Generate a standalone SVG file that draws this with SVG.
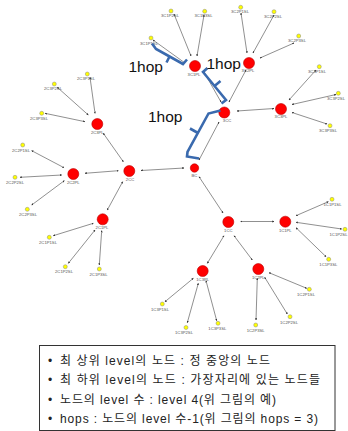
<svg xmlns="http://www.w3.org/2000/svg" width="348" height="431" viewBox="0 0 348 431">
<defs>
<marker id="ah" viewBox="0 0 6 6" refX="5" refY="3" markerWidth="3.5" markerHeight="3.5" orient="auto-start-reverse">
<path d="M0,0 L6,3 L0,6 z" fill="#333"/>
</marker>
<style>
.e{stroke:#444;stroke-width:0.6;fill:none;marker-start:url(#ah);marker-end:url(#ah)}
.r{fill:#f00;stroke:#b00;stroke-width:0.6}
.y{fill:#ff0;stroke:#888;stroke-width:0.5}
.l{font-family:"Liberation Sans",Arial,sans-serif;font-size:4.2px;fill:#555;text-anchor:middle}
.br{fill:none;stroke:#3a6aae;stroke-width:2.6;stroke-linejoin:miter;stroke-linecap:butt}
.hop{font-family:"Liberation Sans",Arial,sans-serif;font-size:15.5px;fill:#111}
.t{font-family:"Liberation Sans","Noto Sans CJK KR",sans-serif;font-size:12px;fill:#222}
</style>
</defs>
<rect width="348" height="431" fill="#fff"/>
<g id="connectors">
<line class="e" x1="199" y1="160" x2="219" y2="122"/>
<line class="e" x1="199" y1="176.7" x2="223" y2="213"/>
<line class="e" x1="141" y1="170.5" x2="184" y2="168"/>
<line class="e" x1="221" y1="102" x2="204" y2="72"/>
<line class="e" x1="229" y1="102" x2="246" y2="70"/>
<line class="e" x1="237" y1="111" x2="274" y2="108.5"/>
<line class="e" x1="153" y1="40" x2="185" y2="63"/>
<line class="e" x1="174" y1="14" x2="191" y2="56"/>
<line class="e" x1="204" y1="15" x2="197" y2="56"/>
<line class="e" x1="241" y1="13" x2="247" y2="53"/>
<line class="e" x1="274" y1="15" x2="253" y2="53"/>
<line class="e" x1="294" y1="43" x2="260" y2="58"/>
<line class="e" x1="316" y1="70" x2="289" y2="100"/>
<line class="e" x1="336" y1="94.5" x2="292" y2="104.5"/>
<line class="e" x1="327" y1="124" x2="292" y2="112.5"/>
<line class="e" x1="103.3" y1="133.3" x2="123.3" y2="161.7"/>
<line class="e" x1="85" y1="173.3" x2="118.3" y2="170.7"/>
<line class="e" x1="107.3" y1="210" x2="122.7" y2="181.7"/>
<line class="e" x1="90" y1="77.3" x2="95" y2="113.3"/>
<line class="e" x1="57.3" y1="87.3" x2="88.3" y2="115"/>
<line class="e" x1="45" y1="113.3" x2="85" y2="121.7"/>
<line class="e" x1="31.7" y1="150.7" x2="64" y2="167.7"/>
<line class="e" x1="20" y1="177.3" x2="61.7" y2="175"/>
<line class="e" x1="31.7" y1="205" x2="64.3" y2="180.7"/>
<line class="e" x1="53.3" y1="235.7" x2="93.3" y2="223.3"/>
<line class="e" x1="68.3" y1="263.3" x2="95" y2="230"/>
<line class="e" x1="99.3" y1="265" x2="101.7" y2="230.7"/>
<line class="e" x1="240.7" y1="221.5" x2="274" y2="221.5"/>
<line class="e" x1="224" y1="235.7" x2="207.3" y2="263.3"/>
<line class="e" x1="234" y1="235.7" x2="252.3" y2="260"/>
<line class="e" x1="296" y1="215.7" x2="328.3" y2="201.7"/>
<line class="e" x1="296" y1="222.3" x2="341.7" y2="229"/>
<line class="e" x1="296" y1="227.7" x2="326" y2="256.7"/>
<line class="e" x1="165" y1="301.7" x2="193.3" y2="278.3"/>
<line class="e" x1="187.3" y1="322.7" x2="198.3" y2="283.3"/>
<line class="e" x1="216.7" y1="320.7" x2="206" y2="280.7"/>
<line class="e" x1="269" y1="272.7" x2="306.7" y2="288.3"/>
<line class="e" x1="264.7" y1="277.3" x2="287.3" y2="314"/>
<line class="e" x1="257.3" y1="278.3" x2="256" y2="320"/>
</g>
<g id="BC"><circle class="r" cx="194.5" cy="168" r="4.2"/><text class="l" x="194.5" y="177">BC</text></g>
<g id="n3CC"><circle class="r" cx="224.3" cy="112.5" r="5.5"/><text class="l" x="227" y="122">3CC</text></g>
<g id="n2CC"><circle class="r" cx="129.3" cy="171" r="5.5"/><text class="l" x="130" y="180.5">2CC</text></g>
<g id="n1CC"><circle class="r" cx="228.3" cy="222" r="5.5"/><text class="l" x="228.3" y="232">1CC</text></g>
<g id="n3C1PL"><circle class="r" cx="195" cy="66" r="5.5"/><text class="l" x="194" y="75.5">3C1PL</text></g>
<g id="n3C2PL"><circle class="r" cx="249" cy="63" r="5.5"/><text class="l" x="248" y="72">3C2PL</text></g>
<g id="n3C3PL"><circle class="r" cx="281" cy="109" r="5.5"/><text class="l" x="281" y="118">3C3PL</text></g>
<g id="n2C3PL"><circle class="r" cx="97.3" cy="124" r="5.5"/><text class="l" x="97.3" y="133.5">2C3PL</text></g>
<g id="n2C2PL"><circle class="r" cx="73.3" cy="174" r="5.5"/><text class="l" x="73.3" y="183.5">2C2PL</text></g>
<g id="n2C1PL"><circle class="r" cx="102.7" cy="219.3" r="5.5"/><text class="l" x="102" y="229">2C1PL</text></g>
<g id="n1C1PL"><circle class="r" cx="285.3" cy="221.7" r="5.5"/><text class="l" x="285.3" y="232">1C1PL</text></g>
<g id="n1C3PL"><circle class="r" cx="202.7" cy="271" r="5.5"/><text class="l" x="202.7" y="280.5">1C3PL</text></g>
<g id="n1C2PL"><circle class="r" cx="258.3" cy="269" r="5.5"/><text class="l" x="258.3" y="279">1C2PL</text></g>
<g id="n3C1P1SL"><circle class="y" cx="151" cy="38" r="2"/><text class="l" x="149" y="45">3C1P1SL</text></g>
<g id="n3C1P2SL"><circle class="y" cx="171" cy="11" r="2"/><text class="l" x="170" y="17">3C1P2SL</text></g>
<g id="n3C1P3SL"><circle class="y" cx="204.7" cy="11.3" r="2"/><text class="l" x="203.5" y="17.3">3C1P3SL</text></g>
<g id="n3C2P1SL"><circle class="y" cx="240.7" cy="7.3" r="2"/><text class="l" x="240" y="13.3">3C2P1SL</text></g>
<g id="n3C2P2SL"><circle class="y" cx="274" cy="11.7" r="2"/><text class="l" x="273" y="17.7">3C2P2SL</text></g>
<g id="n3C2P3SL"><circle class="y" cx="298.7" cy="36" r="2"/><text class="l" x="297" y="42">3C2P3SL</text></g>
<g id="n3C3P1SL"><circle class="y" cx="319.3" cy="66.7" r="2"/><text class="l" x="317" y="72.5">3C3P1SL</text></g>
<g id="n3C3P2SL"><circle class="y" cx="338.3" cy="93.3" r="2"/><text class="l" x="336" y="99.5">3C3P2SL</text></g>
<g id="n3C3P3SL"><circle class="y" cx="330" cy="125.7" r="2"/><text class="l" x="328" y="131.7">3C3P3SL</text></g>
<g id="n2C3P1SL"><circle class="y" cx="87.3" cy="74" r="2"/><text class="l" x="86" y="80">2C3P1SL</text></g>
<g id="n2C3P2SL"><circle class="y" cx="54.3" cy="84" r="2"/><text class="l" x="53" y="90">2C3P2SL</text></g>
<g id="n2C3P3SL"><circle class="y" cx="41.7" cy="113.3" r="2"/><text class="l" x="39" y="119.5">2C3P3SL</text></g>
<g id="n2C2P1SL"><circle class="y" cx="22.7" cy="145" r="2"/><text class="l" x="21" y="151.5">2C2P1SL</text></g>
<g id="n2C2P2SL"><circle class="y" cx="15" cy="177.3" r="2"/><text class="l" x="15" y="184">2C2P2SL</text></g>
<g id="n2C2P3SL"><circle class="y" cx="27.3" cy="209.3" r="2"/><text class="l" x="28" y="215.5">2C2P3SL</text></g>
<g id="n2C1P1SL"><circle class="y" cx="49.3" cy="237.3" r="2"/><text class="l" x="48" y="243.5">2C1P1SL</text></g>
<g id="n2C1P2SL"><circle class="y" cx="65.3" cy="266.7" r="2"/><text class="l" x="64" y="273">2C1P2SL</text></g>
<g id="n2C1P3SL"><circle class="y" cx="99.3" cy="269" r="2"/><text class="l" x="98.5" y="275.5">2C1P3SL</text></g>
<g id="n1C1P1SL"><circle class="y" cx="332" cy="199.3" r="2"/><text class="l" x="332.5" y="205.5">1C1P1SL</text></g>
<g id="n1C1P2SL"><circle class="y" cx="345" cy="229.3" r="2"/><text class="l" x="338.5" y="235.5">1C1P2SL</text></g>
<g id="n1C1P3SL"><circle class="y" cx="328.7" cy="259.3" r="2"/><text class="l" x="328.3" y="265.5">1C1P3SL</text></g>
<g id="n1C3P1SL"><circle class="y" cx="162.3" cy="304" r="2"/><text class="l" x="160" y="310.5">1C3P1SL</text></g>
<g id="n1C3P2SL"><circle class="y" cx="186" cy="327.5" r="2"/><text class="l" x="184" y="333.5">1C3P2SL</text></g>
<g id="n1C3P3SL"><circle class="y" cx="218" cy="323.3" r="2"/><text class="l" x="217.3" y="330">1C3P3SL</text></g>
<g id="n1C2P1SL"><circle class="y" cx="309.3" cy="289.3" r="2"/><text class="l" x="306" y="296">1C2P1SL</text></g>
<g id="n1C2P2SL"><circle class="y" cx="290" cy="316.7" r="2"/><text class="l" x="289" y="323.5">1C2P2SL</text></g>
<g id="n1C2P3SL"><circle class="y" cx="255.7" cy="325" r="2"/><text class="l" x="255.7" y="331.5">1C2P3SL</text></g>
<g id="hops">
<path class="br" d="M152,43.5 L156,49 L183,64 L187,59.5 M169.5,56.5 L166.5,62.5"/>
<path class="br" d="M207.5,68 L203,72 L226,100 L221.5,103.5 M214.5,86 L220.5,81"/>
<path class="br" d="M220.5,110.5 L208.5,113.5 L187.5,152 L187,156.5 L199,158.5 M198,133 L190,128.5"/>
<text class="hop" x="128.5" y="72">1hop</text>
<text class="hop" x="206.5" y="68.5">1hop</text>
<text class="hop" x="148" y="121.5">1hop</text>
</g>
<g id="legend">
<rect x="39.5" y="345.5" width="295.5" height="85" fill="#fff" stroke="#333" stroke-width="1"/>
<text class="t" x="48" y="364.5">•</text>
<text class="t" x="48" y="384">•</text>
<text class="t" x="48" y="403.5">•</text>
<text class="t" x="48" y="423">•</text>
<text class="t" x="60" y="364.5" textLength="210" lengthAdjust="spacing">최 상위 level의 노드 : 정 중앙의 노드</text>
<text class="t" x="60" y="384" textLength="260" lengthAdjust="spacing">최 하위 level의 노드 : 가장자리에 있는 노드들</text>
<text class="t" x="60" y="403.5" textLength="216" lengthAdjust="spacing">노드의 level 수 : level 4(위 그림의 예)</text>
<text class="t" x="60" y="423" textLength="258" lengthAdjust="spacing">hops : 노드의 level 수-1(위 그림의 hops = 3)</text>
</g>
</svg>
